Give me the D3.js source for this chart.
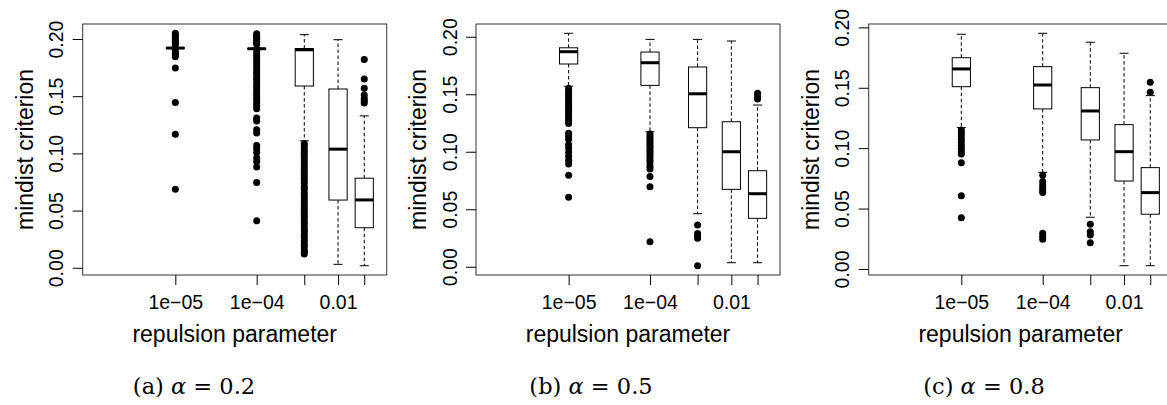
<!DOCTYPE html>
<html>
<head>
<meta charset="utf-8">
<script src="https://cdn.jsdelivr.net/npm/d3@7"></script>
<style>
  body { margin: 0; background: #fff; }
  svg { display: block; }
  text { font-family: "Liberation Sans", Arial, sans-serif; fill: #000; }
</style>
</head>
<body>
<div id="chart"></div>
<script>
// fixed page size, same as the reference picture
let w = 1167, h = 405;

// box positions (boxplot with log = "x", at = 1:5) and their names
let categories = ["1e-05", "1e-04", "0.001", "0.01", "0.1"];
let boxAt = [1, 2, 3, 4, 5];
let yTicks = [0, 0.05, 0.10, 0.15, 0.20];
let panelLetters = ["a", "b", "c"];
let alphas = ["0.2", "0.5", "0.8"];

// box stats: [lower whisker, Q1, median, Q3, upper whisker]
let statsA = [
  [0.1915, 0.1918, 0.1921, 0.1924, 0.1927],
  [0.1908, 0.1912, 0.1915, 0.1918, 0.1922],
  [0.111, 0.1589, 0.1906, 0.1917, 0.2038],
  [0.003, 0.0592, 0.1037, 0.1563, 0.1994],
  [0.0018, 0.035, 0.0593, 0.0783, 0.1328]
];
let outliersA = [
  [0.205, 0.2036, 0.2021, 0.2008, 0.1994, 0.198, 0.1966, 0.1952, 0.1895, 0.1876, 0.1861, 0.1845, 0.1746, 0.1445, 0.1168, 0.0686],
  [0.2045, 0.2029, 0.2016, 0.2, 0.1986, 0.1971, 0.1955, 0.189, 0.1866, 0.1838, 0.1817, 0.179, 0.1768, 0.1741, 0.1713, 0.1692,
   0.1664, 0.1641, 0.1612, 0.1591, 0.1566, 0.1537, 0.1516, 0.1489, 0.1466, 0.1438, 0.1417, 0.139, 0.131, 0.1284, 0.1206,
   0.1179, 0.107, 0.1043, 0.1008, 0.096, 0.0928, 0.0882, 0.0745, 0.041],
  [0.1085, 0.1061, 0.1032, 0.1011, 0.0983, 0.0962, 0.0934, 0.0908, 0.0887, 0.0859, 0.0834, 0.0812, 0.0783, 0.0761, 0.0737,
   0.0709, 0.0686, 0.0658, 0.0636, 0.0611, 0.0583, 0.0562, 0.0534, 0.0512, 0.0486, 0.0459, 0.0437, 0.0408, 0.0386, 0.0361,
   0.0333, 0.0312, 0.0284, 0.0262, 0.0236, 0.0208, 0.0187, 0.0159, 0.0137, 0.012],
  [],
  [0.182, 0.165, 0.157, 0.151, 0.148, 0.146, 0.144]
];

let statsB = [
  [0.157, 0.1763, 0.187, 0.1904, 0.203],
  [0.1174, 0.1577, 0.1774, 0.1867, 0.1977],
  [0.0461, 0.1209, 0.1504, 0.1737, 0.1977],
  [0.0035, 0.0673, 0.1, 0.1261, 0.1963],
  [0.0035, 0.0421, 0.0635, 0.0835, 0.1406]
];
let outliersB = [
  [0.155, 0.1531, 0.1509, 0.1492, 0.147, 0.1451, 0.1428, 0.1411, 0.139, 0.1369, 0.1352, 0.1329, 0.1311, 0.129, 0.1268,
   0.1245, 0.116, 0.1134, 0.1109, 0.106, 0.1033, 0.0995, 0.0961, 0.0925, 0.0894, 0.0795, 0.0605],
  [0.1155, 0.1134, 0.1116, 0.1093, 0.1076, 0.1054, 0.1036, 0.1013, 0.0996, 0.0974, 0.0951, 0.0926, 0.0902, 0.0873,
   0.0851, 0.0785, 0.0696, 0.0217],
  [0.0363, 0.029, 0.027, 0.0247, 0.0009],
  [],
  [0.1508, 0.148, 0.1458]
];

let statsC = [
  [0.117, 0.1509, 0.1656, 0.1749, 0.1943],
  [0.080, 0.1325, 0.1523, 0.1675, 0.1951],
  [0.0428, 0.1068, 0.1308, 0.1501, 0.1877],
  [0.0027, 0.0728, 0.0971, 0.1195, 0.1786],
  [0.0027, 0.0453, 0.0632, 0.0839, 0.1435]
];
let outliersC = [
  [0.115, 0.1126, 0.1101, 0.1074, 0.1052, 0.1024, 0.1, 0.0973, 0.0951, 0.088, 0.0607, 0.0425],
  [0.0775, 0.0724, 0.0695, 0.067, 0.0651, 0.0632, 0.0295, 0.027, 0.0245],
  [0.037, 0.0309, 0.0281, 0.0218],
  [],
  [0.1546, 0.1463]
];

let panelStats = [statsA, statsB, statsC];
let panelOutliers = [outliersA, outliersB, outliersC];

// layout
let panelLeft = [82.7, 476, 868.7];
let captionX = [194, 591, 984];
let plotTop = 24, pw = 304, ph = 251;
let boxwex = 0.155;     // box width, in log units (R bxp multiplies x by exp(+-wid/2))
let tickFont = 19.5, labFont = 23;

let viz = d3.select("#chart")
  .append("svg")
    .attr("width", w)
    .attr("height", h)
    .style("background-color", "#fff")
;

for (let p = 0; p < 3; p++) {
  drawPanel(p, panelStats[p], panelOutliers[p]);
}

function drawPanel(p, stats, outliers) {
  let g = viz.append("g")
      .attr("transform", "translate(" + panelLeft[p] + "," + plotTop + ")");

  // y range like R: data range + 4% on both sides
  let all = d3.merge([d3.merge(stats), d3.merge(outliers)]);
  let ext = d3.extent(all);
  let pad = (ext[1] - ext[0]) * 0.04;
  let yScale = d3.scaleLinear().domain([ext[0] - pad, ext[1] + pad]).range([ph, 0]);

  // x: log axis, xlim = c(0.5, n + 0.5), +4% in log space
  let lo = Math.log10(0.5), hi = Math.log10(boxAt.length + 0.5);
  let lp = (hi - lo) * 0.04;
  let xScale = d3.scaleLog()
      .domain([Math.pow(10, lo - lp), Math.pow(10, hi + lp)])
      .range([0, pw]);

  let boxes = g.selectAll(".box").data(stats).enter()
    .append("g")
      .attr("class", "box");

  function xAt(i, f) { return xScale(boxAt[i] * Math.exp(f)); }

  // whiskers
  boxes.append("line")
      .attr("x1", (d, i) => xScale(boxAt[i])).attr("x2", (d, i) => xScale(boxAt[i]))
      .attr("y1", d => yScale(d[3])).attr("y2", d => yScale(d[4]))
      .attr("stroke", "#000").attr("stroke-dasharray", "3.5,2.5");
  boxes.append("line")
      .attr("x1", (d, i) => xScale(boxAt[i])).attr("x2", (d, i) => xScale(boxAt[i]))
      .attr("y1", d => yScale(d[1])).attr("y2", d => yScale(d[0]))
      .attr("stroke", "#000").attr("stroke-dasharray", "3.5,2.5");

  // staples
  [0, 4].forEach(function(k) {
    boxes.append("line")
        .attr("x1", (d, i) => xAt(i, -boxwex / 4)).attr("x2", (d, i) => xAt(i, boxwex / 4))
        .attr("y1", d => yScale(d[k])).attr("y2", d => yScale(d[k]))
        .attr("stroke", "#000");
  });

  // box
  boxes.append("rect")
      .attr("x", (d, i) => xAt(i, -boxwex / 2))
      .attr("width", (d, i) => xAt(i, boxwex / 2) - xAt(i, -boxwex / 2))
      .attr("y", d => yScale(d[3]))
      .attr("height", d => yScale(d[1]) - yScale(d[3]))
      .attr("fill", "#fff").attr("stroke", "#000");

  // median
  boxes.append("line")
      .attr("x1", (d, i) => xAt(i, -boxwex / 2)).attr("x2", (d, i) => xAt(i, boxwex / 2))
      .attr("y1", d => yScale(d[2])).attr("y2", d => yScale(d[2]))
      .attr("stroke", "#000").attr("stroke-width", 3);

  // outliers
  boxes.each(function(d, i) {
    d3.select(this).selectAll("circle").data(outliers[i]).enter()
      .append("circle")
        .attr("cx", xScale(boxAt[i]))
        .attr("cy", v => yScale(v))
        .attr("r", 3.5)
        .attr("fill", "#000");
  });

  // frame
  g.append("rect")
      .attr("x", 0).attr("y", 0).attr("width", pw).attr("height", ph)
      .attr("fill", "none").attr("stroke", "#333");

  // x axis
  let xAxis = d3.axisBottom(xScale)
      .tickValues(boxAt)
      .tickFormat((d, i) => categories[i].replace("-", "\u2212"))
      .tickSize(10).tickSizeOuter(0);
  let xAxisGroup = g.append("g")
      .attr("class", "xaxisgroup")
      .attr("transform", "translate(0," + ph + ")")
      .call(xAxis);
  xAxisGroup.select(".domain").remove();
  xAxisGroup.selectAll("line").attr("stroke", "#000");
  xAxisGroup.selectAll("text")
      .attr("y", 33.5).attr("dy", null)
      .attr("font-size", tickFont)
      .attr("font-family", "Liberation Sans, Arial, sans-serif");
  // R drops labels that would overlap the previous one
  let lastRight = -Infinity;
  xAxisGroup.selectAll(".tick").each(function(d) {
    let t = d3.select(this).select("text");
    let half = t.node().getComputedTextLength() / 2;
    let cx = xScale(d);
    if (cx - half < lastRight + tickFont * 0.5) {
      t.remove();
    } else {
      lastRight = cx + half;
    }
  });

  // y axis
  let yAxis = d3.axisLeft(yScale)
      .tickValues(yTicks)
      .tickFormat(d3.format(".2f"))
      .tickSize(10).tickSizeOuter(0);
  let yAxisGroup = g.append("g")
      .attr("class", "yaxisgroup")
      .call(yAxis);
  yAxisGroup.select(".domain").remove();
  yAxisGroup.selectAll("line").attr("stroke", "#000");
  yAxisGroup.selectAll("text")
      .attr("x", null).attr("dy", null)
      .attr("text-anchor", "middle")
      .attr("transform", "translate(-19.5,0) rotate(-90)")
      .attr("font-size", tickFont)
      .attr("font-family", "Liberation Sans, Arial, sans-serif");

  // axis titles
  g.append("text")
      .attr("x", pw / 2).attr("y", ph + 67)
      .attr("text-anchor", "middle")
      .attr("font-size", labFont)
      .text("repulsion parameter");
  g.append("text")
      .attr("transform", "translate(-49.7," + (ph / 2) + ") rotate(-90)")
      .attr("text-anchor", "middle")
      .attr("font-size", labFont)
      .text("mindist criterion");

  // caption under the panel
  let cap = viz.append("text")
      .attr("x", captionX[p]).attr("y", 394)
      .attr("text-anchor", "middle")
      .attr("font-size", 22.5)
      .style("font-family", "'DejaVu Serif', 'Liberation Serif', serif")
      .attr("xml:space", "preserve");
  cap.append("tspan").text("(" + panelLetters[p] + ") ");
  cap.append("tspan").attr("font-style", "italic").text("\u03b1");
  cap.append("tspan").text(" = " + alphas[p]);
}
</script>
</body>
</html>
